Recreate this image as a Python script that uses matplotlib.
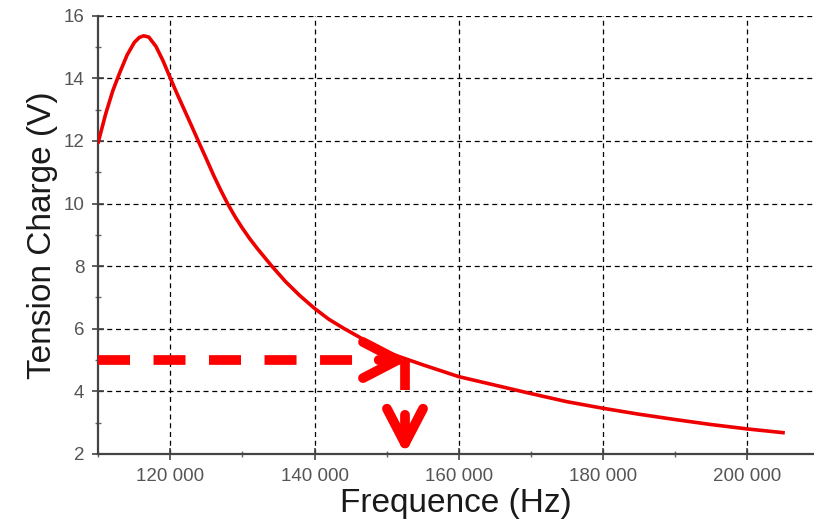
import matplotlib
matplotlib.use("Agg")
import matplotlib.pyplot as plt
from matplotlib.ticker import FuncFormatter, MultipleLocator

plt.rcParams["font.family"] = ["Liberation Sans", "DejaVu Sans"]

# curve
freq_hz = [110000, 111000, 112000, 113000, 114000, 115000, 115700, 116300, 117000,
           118000, 119000, 120000, 121000, 122000, 123000, 124000, 125000, 126000,
           127000, 128000, 129000, 130000, 131000, 132000, 134000, 136000, 138000,
           140000, 142000, 144000, 147000, 150000, 155000, 160000, 165000, 170000,
           175000, 180000, 185000, 190000, 195000, 200000, 205000]
tension_v = [11.97, 12.85, 13.6, 14.2, 14.75, 15.15, 15.31, 15.36, 15.32,
             15.02, 14.55, 14.0, 13.47, 12.96, 12.45, 11.93, 11.42, 10.9,
             10.42, 9.97, 9.57, 9.21, 8.88, 8.58, 8.02, 7.5, 7.05,
             6.65, 6.3, 6.02, 5.63, 5.25, 4.85, 4.47, 4.2, 3.93,
             3.67, 3.46, 3.27, 3.1, 2.94, 2.8, 2.68]

# reading of the operating point (dashed arrows)
target_v = 5.0
target_f = 152800

fig = plt.figure(figsize=(8.14, 5.26), dpi=100)
ax = fig.add_axes([0.1208, 0.137, 0.8792, 0.833])

ax.plot(freq_hz, tension_v, color="#ee0000", lw=2.6, zorder=3,
        solid_joinstyle="round")

red = "#ff0000"
lw_arrow = 7
line_kw = dict(color=red, lw=lw_arrow, solid_capstyle="butt", dash_capstyle="butt",
               clip_on=False, zorder=4)
head = dict(arrowstyle="->,head_length=2.5,head_width=1.3", color=red, lw=lw_arrow,
            shrinkA=0, shrinkB=0, capstyle="round", joinstyle="round")

# horizontal: dashes then a last dash ending in a head
ax.plot([110000, 145330], [target_v, target_v], dashes=(3.29, 2.42), **line_kw)
ax.annotate("", xy=(target_f + 200, target_v), xytext=(148900, target_v),
            arrowprops=head, annotation_clip=False, zorder=4)
# vertical: one dash, gap, then the arrow down to the axis
ax.plot([target_f - 250, target_f - 250], [target_v, 4.04], **line_kw)
ax.annotate("", xy=(target_f - 250, 2.0), xytext=(target_f - 250, 3.25),
            arrowprops=head, annotation_clip=False, zorder=4)

ax.set_xlim(110000, 209300)
ax.set_ylim(2, 16)
ax.xaxis.set_major_locator(MultipleLocator(20000))
ax.xaxis.set_minor_locator(MultipleLocator(10000))
ax.yaxis.set_major_locator(MultipleLocator(2))
ax.yaxis.set_minor_locator(MultipleLocator(1))
ax.xaxis.set_major_formatter(FuncFormatter(lambda v, p: f"{int(v):,}".replace(",", " ")))

ax.grid(True, which="major", color="black", ls=(0, (4, 3)), lw=0.9)
for side in ("top", "right"):
    ax.spines[side].set_visible(False)
for side in ("left", "bottom"):
    ax.spines[side].set_color("#444444")
    ax.spines[side].set_linewidth(1.6)

ax.tick_params(which="major", direction="inout", length=8, width=1.2, color="#444444",
               labelsize=13.5, labelcolor="#555555", pad=6)
ax.tick_params(which="minor", direction="inout", length=5, width=1.0, color="#666666")

ax.set_xlabel("Frequence (Hz)", fontsize=24, color="#1a1a1a", labelpad=2)
ax.set_ylabel("Tension Charge (V)", fontsize=24, color="#1a1a1a", labelpad=4)

fig.savefig("out.png", dpi=100)
